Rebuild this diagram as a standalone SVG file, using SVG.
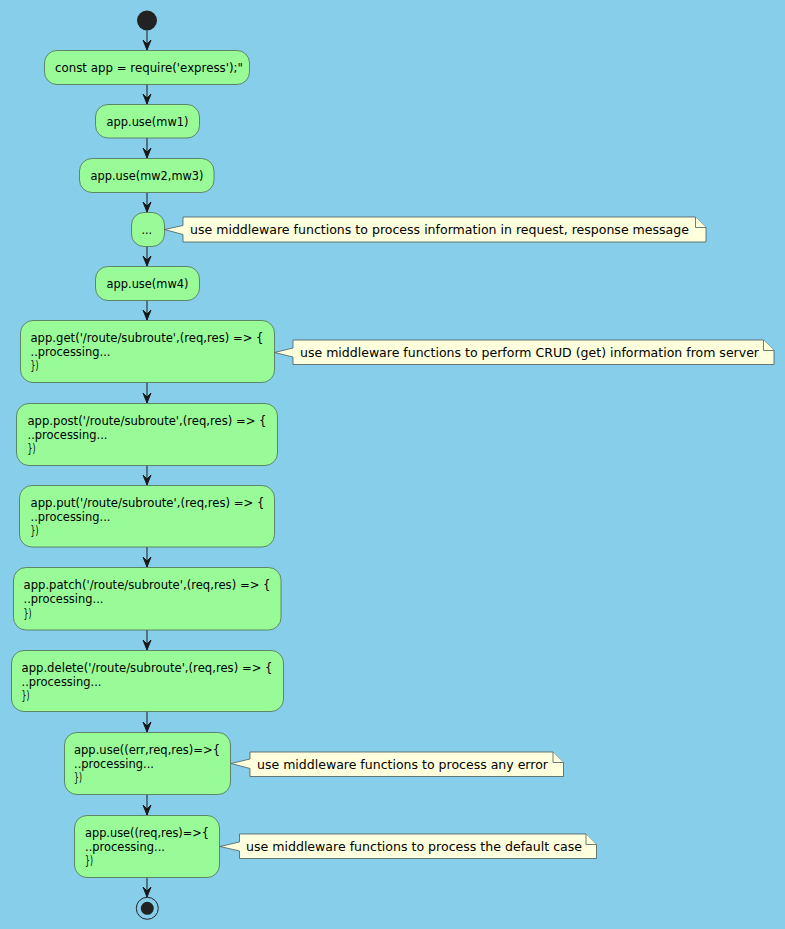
<svg xmlns="http://www.w3.org/2000/svg" width="785" height="929" viewBox="0 0 785 929">
<defs>
<style>
.bg{fill:#87CEEB}
.act{fill:#98FB98;stroke:#4f6f4f;stroke-width:0.8}
.note{fill:#FEFFDD;stroke:#4a5a5a;stroke-width:0.8}
.t{font-family:"DejaVu Sans","Liberation Sans",sans-serif;font-size:12.5px;fill:#000}
.ln{stroke:#181818;stroke-width:1;fill:none}
.ah{fill:#181818;stroke:#181818;stroke-width:1}
</style>
</defs>
<rect class="bg" x="0" y="0" width="785" height="929"/>
<g id="connectors">
<line class="ln" x1="147" y1="30.5" x2="147" y2="50"/><polygon class="ah" points="143,40 147,50 151,40 147,44"/>
<line class="ln" x1="147" y1="84.5" x2="147" y2="104"/><polygon class="ah" points="143,94 147,104 151,94 147,98"/>
<line class="ln" x1="147" y1="138" x2="147" y2="158"/><polygon class="ah" points="143,148 147,158 151,148 147,152"/>
<line class="ln" x1="147" y1="192.5" x2="147" y2="212"/><polygon class="ah" points="143,202 147,212 151,202 147,206"/>
<line class="ln" x1="147" y1="246.5" x2="147" y2="266"/><polygon class="ah" points="143,256 147,266 151,256 147,260"/>
<line class="ln" x1="147" y1="300.5" x2="147" y2="320"/><polygon class="ah" points="143,310 147,320 151,310 147,314"/>
<line class="ln" x1="147" y1="382.5" x2="147" y2="403"/><polygon class="ah" points="143,393 147,403 151,393 147,397"/>
<line class="ln" x1="147" y1="465.5" x2="147" y2="485"/><polygon class="ah" points="143,475 147,485 151,475 147,479"/>
<line class="ln" x1="147" y1="547" x2="147" y2="567"/><polygon class="ah" points="143,557 147,567 151,557 147,561"/>
<line class="ln" x1="147" y1="630" x2="147" y2="650"/><polygon class="ah" points="143,640 147,650 151,640 147,644"/>
<line class="ln" x1="147" y1="711.5" x2="147" y2="732"/><polygon class="ah" points="143,722 147,732 151,722 147,726"/>
<line class="ln" x1="147" y1="794.5" x2="147" y2="815"/><polygon class="ah" points="143,805 147,815 151,805 147,809"/>
<line class="ln" x1="147" y1="877.5" x2="147" y2="897"/><polygon class="ah" points="143,887 147,897 151,887 147,891"/>
</g>
<g id="start"><circle cx="147" cy="20.5" r="10" fill="#222222"/></g>
<g id="n1"><rect class="act" x="44.5" y="50.5" width="205" height="34" rx="12.5"/><text class="t" x="55" y="72" textLength="188" lengthAdjust="spacingAndGlyphs">const app = require('express');"</text></g>
<g id="n2"><rect class="act" x="95.5" y="104.5" width="104" height="33.5" rx="12.5"/><text class="t" x="106.5" y="126" textLength="82" lengthAdjust="spacingAndGlyphs">app.use(mw1)</text></g>
<g id="n3"><rect class="act" x="79.5" y="158.5" width="134.5" height="34" rx="12.5"/><text class="t" x="90.5" y="180" textLength="113" lengthAdjust="spacingAndGlyphs">app.use(mw2,mw3)</text></g>
<g id="n4"><rect class="act" x="131.5" y="212.5" width="33" height="34" rx="12.5"/><text class="t" x="141.5" y="234" textLength="10.5" lengthAdjust="spacingAndGlyphs">...</text></g>
<g id="note1"><path class="note" d="M183,217 L695.5,217 L706,227.5 L706,242 L183,242 L183,234.5 L164.5,229.5 L183,225.5 Z"/><path class="note" d="M695.5,217 L695.5,227.5 L706,227.5" fill="none"/><text class="t" x="190" y="234" textLength="499" lengthAdjust="spacingAndGlyphs">use middleware functions to process information in request, response message</text></g>
<g id="n5"><rect class="act" x="95.5" y="266.5" width="104" height="34" rx="12.5"/><text class="t" x="106.5" y="288" textLength="82" lengthAdjust="spacingAndGlyphs">app.use(mw4)</text></g>
<g id="n6"><rect class="act" x="20.5" y="320.5" width="254" height="62" rx="12.5"/><text class="t" x="30.5" y="341.5" textLength="233" lengthAdjust="spacingAndGlyphs">app.get('/route/subroute',(req,res) =&gt; {</text><text class="t" x="30.5" y="355.8" textLength="80" lengthAdjust="spacingAndGlyphs">..processing...</text><text class="t" x="30.5" y="370" textLength="8" lengthAdjust="spacingAndGlyphs">})</text></g>
<g id="note2"><path class="note" d="M293,340 L763.5,340 L774,350.5 L774,364.5 L293,364.5 L293,357 L274.5,352.5 L293,348 Z"/><path class="note" d="M763.5,340 L763.5,350.5 L774,350.5" fill="none"/><text class="t" x="300" y="357" textLength="459" lengthAdjust="spacingAndGlyphs">use middleware functions to perform CRUD (get) information from server</text></g>
<g id="n7"><rect class="act" x="16.5" y="403.5" width="261" height="62" rx="12.5"/><text class="t" x="27.5" y="424.5" textLength="239" lengthAdjust="spacingAndGlyphs">app.post('/route/subroute',(req,res) =&gt; {</text><text class="t" x="27.5" y="438.8" textLength="80" lengthAdjust="spacingAndGlyphs">..processing...</text><text class="t" x="27.5" y="453" textLength="8" lengthAdjust="spacingAndGlyphs">})</text></g>
<g id="n8"><rect class="act" x="19.5" y="485.5" width="255" height="61.5" rx="12.5"/><text class="t" x="30.5" y="507" textLength="234" lengthAdjust="spacingAndGlyphs">app.put('/route/subroute',(req,res) =&gt; {</text><text class="t" x="30.5" y="521" textLength="80" lengthAdjust="spacingAndGlyphs">..processing...</text><text class="t" x="30.5" y="535" textLength="8" lengthAdjust="spacingAndGlyphs">})</text></g>
<g id="n9"><rect class="act" x="13.5" y="567.5" width="267.5" height="62.5" rx="12.5"/><text class="t" x="23.5" y="589" textLength="247" lengthAdjust="spacingAndGlyphs">app.patch('/route/subroute',(req,res) =&gt; {</text><text class="t" x="23.5" y="603.2" textLength="80" lengthAdjust="spacingAndGlyphs">..processing...</text><text class="t" x="23.5" y="617.5" textLength="8" lengthAdjust="spacingAndGlyphs">})</text></g>
<g id="n10"><rect class="act" x="11.5" y="650.5" width="272" height="61" rx="12.5"/><text class="t" x="21.5" y="671.5" textLength="251" lengthAdjust="spacingAndGlyphs">app.delete('/route/subroute',(req,res) =&gt; {</text><text class="t" x="21.5" y="685.8" textLength="80" lengthAdjust="spacingAndGlyphs">..processing...</text><text class="t" x="21.5" y="700" textLength="8" lengthAdjust="spacingAndGlyphs">})</text></g>
<g id="n11"><rect class="act" x="64.5" y="732.5" width="166" height="62" rx="12.5"/><text class="t" x="74" y="753.5" textLength="146" lengthAdjust="spacingAndGlyphs">app.use((err,req,res)=&gt;{</text><text class="t" x="74" y="767.8" textLength="80" lengthAdjust="spacingAndGlyphs">..processing...</text><text class="t" x="74" y="782" textLength="8" lengthAdjust="spacingAndGlyphs">})</text></g>
<g id="note3"><path class="note" d="M250,752 L553,752 L563.5,762.5 L563.5,776.5 L250,776.5 L250,768.5 L231,763.5 L250,759 Z"/><path class="note" d="M553,752 L553,762.5 L563.5,762.5" fill="none"/><text class="t" x="257" y="769" textLength="291" lengthAdjust="spacingAndGlyphs">use middleware functions to process any error</text></g>
<g id="n12"><rect class="act" x="74.5" y="815.5" width="145" height="62" rx="12.5"/><text class="t" x="85" y="836.5" textLength="124" lengthAdjust="spacingAndGlyphs">app.use((req,res)=&gt;{</text><text class="t" x="85" y="850.8" textLength="80" lengthAdjust="spacingAndGlyphs">..processing...</text><text class="t" x="85" y="865" textLength="8" lengthAdjust="spacingAndGlyphs">})</text></g>
<g id="note4"><path class="note" d="M239.5,834 L586,834 L596.5,844.5 L596.5,858.5 L239.5,858.5 L239.5,851 L220,846.5 L239.5,842 Z"/><path class="note" d="M586,834 L586,844.5 L596.5,844.5" fill="none"/><text class="t" x="246" y="851" textLength="336" lengthAdjust="spacingAndGlyphs">use middleware functions to process the default case</text></g>
<g id="end"><circle cx="147.3" cy="908.3" r="11" fill="none" stroke="#222222" stroke-width="1"/><circle cx="147.3" cy="908.3" r="6.5" fill="#222222"/></g>
</svg>
